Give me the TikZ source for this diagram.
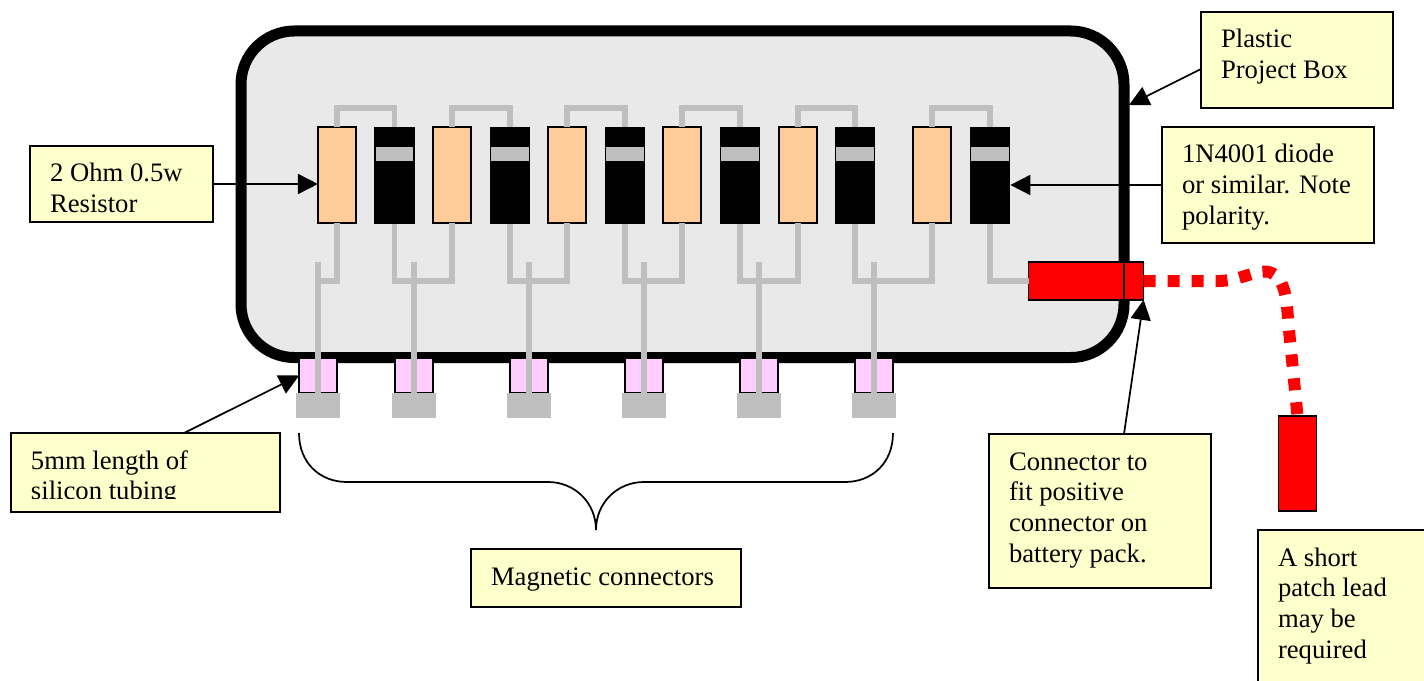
\documentclass[tikz,border=0pt]{standalone}
\usepackage{fontspec}
\setmainfont{Liberation Serif}
\usetikzlibrary{arrows.meta}
\definecolor{notefill}{HTML}{FFFFCC}
\definecolor{boxfill}{HTML}{E9E9E9}
\definecolor{wiregrey}{HTML}{BFBFBF}
\definecolor{resfill}{HTML}{FFCC99}
\definecolor{tubefill}{HTML}{FFCCFF}
\newcommand{\notebody}[3]{\parbox[t][#2][t]{#1}{\vspace{10.9pt}\raggedright\strut #3}}
\tikzset{
  note/.style={draw,fill=notefill,line width=1.3pt,anchor=north west,outer sep=0pt,inner xsep=15pt,inner ysep=0pt,font=\fontsize{20}{23}\selectfont},
  resistor/.style={draw,fill=resfill,line width=1.3pt,outer sep=0pt,inner sep=0pt,minimum width=28.6pt,minimum height=71.9pt},
  diode/.style={fill=black,outer sep=0pt,inner sep=0pt,minimum width=30.5pt,minimum height=73pt},
  band/.style={fill=wiregrey,outer sep=0pt,inner sep=0pt,minimum width=28pt,minimum height=10.3pt},
  tube/.style={draw,fill=tubefill,line width=1.3pt,outer sep=0pt,inner sep=0pt,minimum width=28.2pt,minimum height=26pt},
  magnet/.style={fill=wiregrey,outer sep=0pt,inner sep=0pt,minimum width=33.5pt,minimum height=19.2pt},
  plugred/.style={draw,fill=red,line width=1.3pt,outer sep=0pt,inner sep=0pt},
  wire/.style={draw=wiregrey,line width=4.2pt},
  pointer/.style={->,line width=1.3pt},
}

\begin{document}
\begin{tikzpicture}[x=.75pt,y=-.75pt,>={Triangle[length=15pt,width=15pt]}]
\clip (0,0) rectangle (1424,681);
\node[draw,fill=boxfill,line width=8.25pt,rounded corners=40pt,outer sep=0pt,inner sep=0pt,minimum width=662.25pt,minimum height=244.9pt] (box) at (682.5,194.25) {};
% resistors and diodes
\node[resistor] (r1) at (337,175.3) {};
\node[diode] (d1) at (394.6,175.3) {};
\node[band] (b1) at (394.6,154.2) {};
\node[resistor] (r2) at (452,175.3) {};
\node[diode] (d2) at (510,175.3) {};
\node[band] (b2) at (510,154.2) {};
\node[resistor] (r3) at (567,175.3) {};
\node[diode] (d3) at (625,175.3) {};
\node[band] (b3) at (625,154.2) {};
\node[resistor] (r4) at (682,175.3) {};
\node[diode] (d4) at (740,175.3) {};
\node[band] (b4) at (740,154.2) {};
\node[resistor] (r5) at (798,175.3) {};
\node[diode] (d5) at (855,175.3) {};
\node[band] (b5) at (855,154.2) {};
\node[resistor] (r6) at (932,175.3) {};
\node[diode] (d6) at (990,175.3) {};
\node[band] (b6) at (990,154.2) {};
\draw[wire] (r1.north) -- ++(0,-19.5) -| (d1.north);
\draw[wire] (r2.north) -- ++(0,-19.5) -| (d2.north);
\draw[wire] (r3.north) -- ++(0,-19.5) -| (d3.north);
\draw[wire] (r4.north) -- ++(0,-19.5) -| (d4.north);
\draw[wire] (r5.north) -- ++(0,-19.5) -| (d5.north);
\draw[wire] (r6.north) -- ++(0,-19.5) -| (d6.north);
% tubing and magnets
\node[tube] (t1) at (318,375.5) {};
\node[tube] (t2) at (414,375.5) {};
\node[tube] (t3) at (529,375.5) {};
\node[tube] (t4) at (644,375.5) {};
\node[tube] (t5) at (759,375.5) {};
\node[tube] (t6) at (874,375.5) {};
\node[magnet] (m1) at (318,405.5) {};
\node[magnet] (m2) at (414,405.5) {};
\node[magnet] (m3) at (529,405.5) {};
\node[magnet] (m4) at (644,405.5) {};
\node[magnet] (m5) at (759,405.5) {};
\node[magnet] (m6) at (874,405.5) {};
\coordinate (j1) at (318,281);
\coordinate (j2) at (414,281);
\coordinate (j3) at (529,281);
\coordinate (j4) at (644,281);
\coordinate (j5) at (759,281);
\coordinate (j6) at (874,281);
\coordinate (w1) at (318,262);
\coordinate (w2) at (414,262);
\coordinate (w3) at (529,262);
\coordinate (w4) at (644,262);
\coordinate (w5) at (759,262);
\coordinate (w6) at (874,262);
\draw[wire] (r1.south) |- (j1);
\draw[wire] (d1.south) |- (j2) -| (r2.south);
\draw[wire] (d2.south) |- (j3) -| (r3.south);
\draw[wire] (d3.south) |- (j4) -| (r4.south);
\draw[wire] (d4.south) |- (j5) -| (r5.south);
\draw[wire] (d5.south) |- (j6) -| (r6.south);
\draw[wire] (w1) -- (m1.north);
\draw[wire] (w2) -- (m2.north);
\draw[wire] (w3) -- (m3.north);
\draw[wire] (w4) -- (m4.north);
\draw[wire] (w5) -- (m5.north);
\draw[wire] (w6) -- (m6.north);
% red connector and patch lead
\node[plugred,minimum width=71.8pt,minimum height=28.2pt] (plug) at (1076.4,281) {};
\node[plugred,minimum width=14.4pt,minimum height=28.2pt] (socket) at (1134,281) {};
\node[plugred,minimum width=28.6pt,minimum height=71.6pt] (lead) at (1297.5,463.5) {};
\draw[wire] (d6.south) |- (plug.west);
\draw[red,line width=9pt,dash pattern=on 9pt off 9pt] (socket.east) -- (1220,281) .. controls (1245,280) and (1262,265) .. (1275,275) .. controls (1285,283) and (1287,300) .. (1288,320) -- (lead.north);
% brace
\draw[line width=1.3pt] (299,433) .. controls (299,463) and (320,482) .. (347,482) -- (548,482) .. controls (575,482) and (596,503) .. (596,530) .. controls (596,503) and (617,482) .. (644,482) -- (845,482) .. controls (872,482) and (893,463) .. (893,433);
% notes
\node[note] (plastic) at (1201,12) {\notebody{114pt}{72pt}{Plastic\\Project Box}};
\node[note] (diodenote) at (1162,127) {\notebody{129pt}{87pt}{1N4001 diode\\or similar. Note\\polarity.}};
\node[note] (ohmnote) at (30,146) {\notebody{107.25pt}{57pt}{2 Ohm 0.5w\\Resistor}};
\node[note] (tubenote) at (11,433) {\notebody{171.75pt}{59.25pt}{5mm length of\\silicon tubing}};
\fill[notefill] ([xshift=1pt,yshift=1pt]tubenote.south west) rectangle ([xshift=-1pt,yshift=9.5pt]tubenote.south east);
\node[note] (magnote) at (471,549) {\notebody{172.5pt}{43.5pt}{Magnetic connectors}};
\node[note] (connnote) at (989,434) {\notebody{136.5pt}{115.5pt}{Connector to\\fit positive\\connector on\\battery pack.}};
\node[note] (shortnote) at (1258,530) {\notebody{120pt}{127.5pt}{A short\\patch lead\\may be\\required}};
\coordinate (boxhit) at (1129,105);
\draw[pointer] (ohmnote.east) -- (r1.west |- ohmnote.east);
\draw[pointer] (diodenote.west) -- (d6.east |- diodenote.west);
\draw[pointer] ([yshift=-6.75pt]plastic.west) -- (boxhit);
\draw[pointer] ([xshift=29pt]tubenote.north) -- (t1.west);
\draw[pointer] ([xshift=18pt]connnote.north) -- (socket.south east);
\end{tikzpicture}
\end{document}
